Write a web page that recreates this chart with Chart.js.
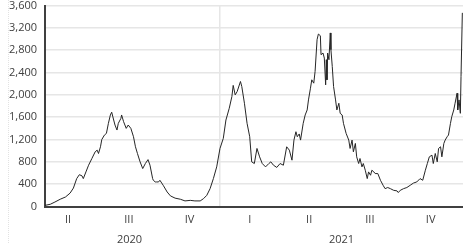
<!DOCTYPE html>
<html>
<head>
<meta charset="utf-8">
<title>Cases</title>
<script src="https://cdn.jsdelivr.net/npm/chart.js@4/dist/chart.umd.min.js"></script>
<style>
body {margin: 0; background: #fff;}
.wrap {position: relative; width: 463px; height: 247px; overflow: hidden;}
.wrap canvas {position: absolute; left: 0; top: -9px;}
.edge {position: absolute; left: 8px; top: 0; height: 243px; border-left: 1px dotted #e2e2e2;}
</style>
</head>
<body>
<div class="wrap">
	<div class="edge"></div>
	<canvas id="chart" width="463" height="256"></canvas>
</div>
<script>
// days counted from 1 Jan 2020
const days = [
	101, 109, 116, 124, 132, 139, 144, 149, 153, 157,
	159, 163, 167, 172, 177, 180, 182, 185, 187, 191,
	194, 197, 200, 202, 205, 207, 210, 212, 216, 217,
	220, 224, 227, 231, 235, 238, 241, 245, 249, 253,
	257, 260, 264, 265, 268, 270, 273, 275, 280, 286,
	291, 298, 306, 313, 321, 328, 336, 341, 346, 351,
	356, 361, 366, 371, 375, 380, 384, 386, 389, 392,
	397, 399, 403, 407, 411, 414, 418, 422, 426, 430,
	435, 440, 443, 447, 452, 457, 462, 467, 471, 475,
	478, 481, 483, 486, 488, 492, 495, 498, 500, 503,
	505, 508, 510, 513, 515, 518, 519, 522, 524, 526,
	527, 528, 529, 531, 533, 534, 536, 538, 541, 543,
	546, 548, 551, 553, 557, 561, 563, 566, 568, 571,
	573, 576, 578, 581, 583, 586, 589, 591, 594, 596,
	599, 601, 605, 609, 613, 616, 620, 624, 629, 634,
	636, 639, 644, 649, 654, 659, 664, 669, 673, 677,
	680, 683, 687, 689, 692, 695, 697, 700, 702, 705,
	707, 710, 712, 715, 717, 720, 722, 725, 726, 728,
	730, 731, 733
];
const cases = [
	20, 40, 80, 130, 170, 240, 330, 500, 570, 550,
	500, 620, 740, 860, 980, 1010, 950, 1070, 1200, 1280,
	1310, 1490, 1640, 1690, 1550, 1460, 1370, 1490, 1580, 1640,
	1520, 1400, 1460, 1400, 1250, 1070, 950, 800, 680, 770,
	840, 740, 500, 470, 440, 440, 440, 470, 380, 260,
	190, 150, 130, 100, 110, 100, 100, 140, 200, 320,
	500, 710, 1040, 1220, 1550, 1760, 1970, 2170, 2000, 2060,
	2240, 2150, 1850, 1490, 1250, 800, 770, 1040, 890, 770,
	710, 770, 800, 740, 700, 770, 740, 1070, 1010, 830,
	1190, 1340, 1250, 1300, 1190, 1490, 1640, 1730, 1910, 2120,
	2270, 2210, 2420, 2990, 3090, 3060, 2720, 2750, 2660, 2180,
	2630, 2270, 2750, 2630, 3110, 2810, 2510, 2150, 1910, 1730,
	1850, 1670, 1640, 1490, 1310, 1190, 1040, 1190, 980, 1130,
	890, 770, 860, 710, 770, 650, 500, 620, 560, 650,
	620, 590, 590, 470, 380, 320, 340, 320, 290, 280,
	250, 290, 320, 340, 380, 420, 440, 500, 470, 650,
	770, 890, 920, 770, 950, 800, 1040, 1070, 890, 1130,
	1190, 1250, 1280, 1490, 1610, 1730, 1850, 2030, 1730, 1910,
	1670, 2330, 3470
];
const quarterTicks = [136, 228, 320, 411, 501, 593, 685];
const quarterLabels = ['II', 'III', 'IV', 'I', 'II', 'III', 'IV'];
const yearTicks = [229, 366, 550];
const yearLabels = ['2020', '', '2021'];

const tickFont = {family: "'Open Sans', sans-serif", size: 11};
const tickColor = '#404040';

const points = days.map((d, i) => ({x: d, y: cases[i]}));

new Chart(document.getElementById('chart'), {
	type: 'line',
	data: {
		datasets: [{
			data: points,
			borderColor: '#262626',
			borderWidth: 1,
			pointRadius: 0,
			tension: 0
		}]
	},
	options: {
		responsive: false,
		animation: false,
		devicePixelRatio: 1,
		layout: {padding: 0},
		plugins: {legend: {display: false}, tooltip: {enabled: false}},
		scales: {
			x: {
				type: 'linear',
				min: 101,
				max: 734,
				afterBuildTicks: function (axis) {
					axis.ticks = quarterTicks.map(v => ({value: v}));
				},
				afterFit: function (axis) { axis.height = 19; },
				ticks: {
					autoSkip: false,
					maxRotation: 0,
					padding: 7,
					color: tickColor,
					font: tickFont,
					callback: (v, i) => quarterLabels[i]
				},
				grid: {display: false, drawTicks: false},
				border: {display: true, color: '#404040', width: 2}
			},
			x2: {
				type: 'linear',
				position: 'bottom',
				min: 101,
				max: 734,
				afterBuildTicks: function (axis) {
					axis.ticks = yearTicks.map(v => ({value: v}));
				},
				afterFit: function (axis) { axis.height = 21.5; },
				ticks: {
					autoSkip: false,
					maxRotation: 0,
					padding: 7.5,
					color: tickColor,
					font: tickFont,
					callback: (v, i) => yearLabels[i]
				},
				grid: {
					drawTicks: false,
					lineWidth: 1.5,
					color: ctx => (ctx.tick && ctx.tick.value === 366) ? '#e6e6e6' : 'rgba(0,0,0,0)'
				},
				border: {display: false}
			},
			y: {
				min: 0,
				max: 3600,
				afterFit: function (axis) { axis.width = 45; },
				ticks: {
					stepSize: 400,
					padding: 8,
					color: tickColor,
					font: tickFont,
					callback: v => v.toLocaleString('en-US')
				},
				grid: {color: '#e6e6e6', lineWidth: 1.5, drawTicks: false},
				border: {display: true, color: '#404040', width: 2}
			}
		}
	}
});
</script>
</body>
</html>
